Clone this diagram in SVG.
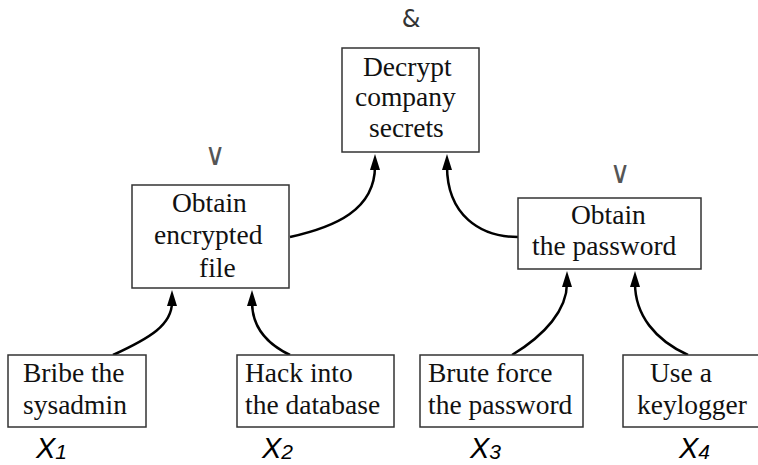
<svg xmlns="http://www.w3.org/2000/svg" width="758" height="465" viewBox="0 0 758 465">
<style>
.box{fill:#fff;stroke:#333;stroke-width:1.5}
.t{font-family:"Liberation Serif","Times New Roman",serif;font-size:27.5px;fill:#111}
.op{font-family:"DejaVu Sans","Liberation Sans",sans-serif;fill:#333}
.v{font-family:"DejaVu Sans","Liberation Sans",sans-serif;font-size:24px;fill:#555}
.x{font-family:"Liberation Sans",Arial,sans-serif;font-style:italic;font-size:29px;fill:#000}
.c{fill:none;stroke:#000;stroke-width:2.5}
</style>
<defs>
<marker id="ah" viewBox="0 0 16 10" markerWidth="16" markerHeight="10" markerUnits="userSpaceOnUse" refX="4" refY="5" orient="auto">
<path d="M0,0 L16,5 L0,10 z" fill="#000"/>
</marker>
</defs>
<rect width="758" height="465" fill="#fff"/>
<g id="connectors">
<path class="c" marker-end="url(#ah)" d="M290,237 C335,227 375,210 375,166"/>
<path class="c" marker-end="url(#ah)" d="M518,237 C480,237 447,215 447,166"/>
<path class="c" marker-end="url(#ah)" d="M113,355 C150,338 172,325 172,302"/>
<path class="c" marker-end="url(#ah)" d="M290,355 C265,343 252,325 252,302"/>
<path class="c" marker-end="url(#ah)" d="M512,355 C545,335 567,310 567,283"/>
<path class="c" marker-end="url(#ah)" d="M688,355 C655,340 635,315 635,283"/>
</g>
<g id="decrypt">
<text class="op" x="411" y="27" font-size="24" text-anchor="middle">&amp;</text>
<rect class="box" x="342" y="48" width="137" height="104"/>
<text class="t" x="363" y="76">Decrypt</text>
<text class="t" x="355" y="106">company</text>
<text class="t" x="369" y="137">secrets</text>
</g>
<g id="encrypted">
<text class="v" transform="translate(215,165) scale(1.15,1.3)" text-anchor="middle">∨</text>
<rect class="box" x="132" y="185" width="157" height="103"/>
<text class="t" x="172" y="212">Obtain</text>
<text class="t" x="154" y="244">encrypted</text>
<text class="t" x="199" y="277">file</text>
</g>
<g id="password">
<text class="v" transform="translate(620,183) scale(1.15,1.3)" text-anchor="middle">∨</text>
<rect class="box" x="518" y="198" width="183" height="71"/>
<text class="t" x="571" y="224">Obtain</text>
<text class="t" x="532" y="255">the password</text>
</g>
<g id="bribe">
<rect class="box" x="8" y="355" width="138" height="72"/>
<text class="t" x="23" y="382">Bribe the</text>
<text class="t" x="23" y="414">sysadmin</text>
<text class="x" x="36" y="458">X<tspan font-size="21" dy="1">1</tspan></text>
</g>
<g id="hack">
<rect class="box" x="237" y="355" width="157" height="72"/>
<text class="t" x="245" y="382">Hack into</text>
<text class="t" x="245" y="414">the database</text>
<text class="x" x="262" y="458">X<tspan font-size="21" dy="1">2</tspan></text>
</g>
<g id="brute">
<rect class="box" x="420" y="355" width="163" height="72"/>
<text class="t" x="428" y="382">Brute force</text>
<text class="t" x="428" y="414">the password</text>
<text class="x" x="470" y="458">X<tspan font-size="21" dy="1">3</tspan></text>
</g>
<g id="keylogger">
<rect class="box" x="623" y="355" width="140" height="72"/>
<text class="t" x="650" y="382">Use a</text>
<text class="t" x="637" y="414">keylogger</text>
<text class="x" x="679" y="458">X<tspan font-size="21" dy="1">4</tspan></text>
</g>
</svg>
